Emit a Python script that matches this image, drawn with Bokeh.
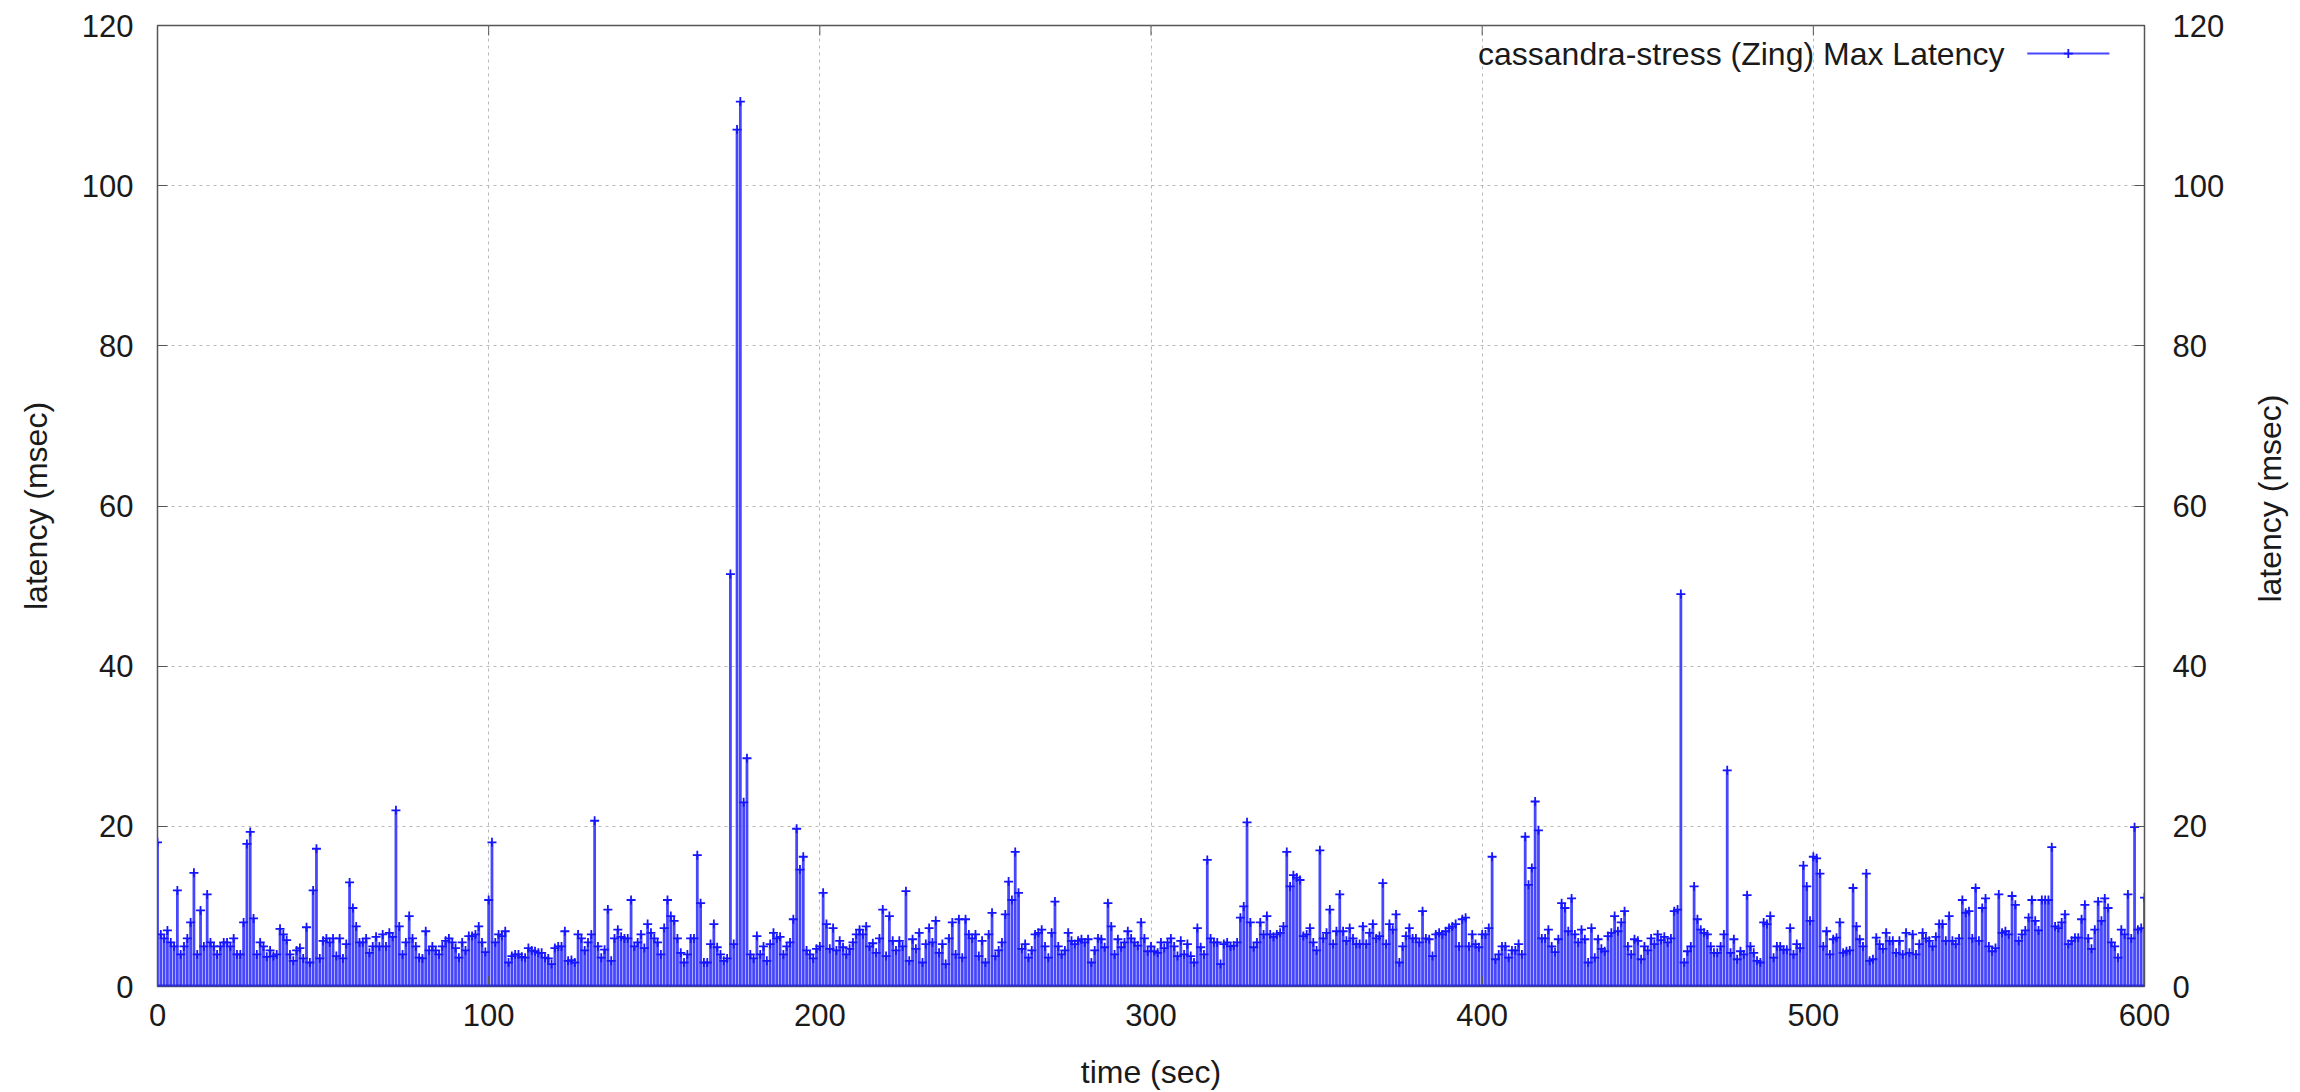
import math
from bokeh.plotting import figure
from bokeh.layouts import row
from bokeh.models import LinearAxis, Range1d, SingleIntervalTicker, Label, Span
from bokeh.embed import file_html
from bokeh.resources import INLINE

# ---- data: cassandra-stress (Zing) max latency per second (msec) ----
latency_000 = [18, 6.5, 6, 7, 5.5, 5, 12, 4, 5, 6,
               8, 14.2, 4, 9.5, 5, 11.5, 5.5, 5, 4, 5,
               5.5, 5.5, 5, 6, 4, 4, 8, 17.8, 19.3, 8.5,
               4, 5.5, 5, 3.7, 4.5, 3.8, 4, 7.2, 6.5, 5.8,
               4, 3.2, 4.5, 4.8, 3.5, 7.4, 3, 12, 17.2, 3.5,
               5.7, 6, 5.5, 6, 3.8, 6, 3.5, 5.3, 13, 9.8,
               7.5, 5.5, 5.5, 6, 4.2, 5, 6.2, 5, 6.5, 5,
               6.7, 6.2, 22, 7.5, 4, 5.5, 8.8, 6, 5, 3.6,
               3.5, 6.9, 4.5, 5, 4.5, 4, 5, 5.7, 6, 5.5,
               4.8, 3.6, 5.5, 4.5, 6.3, 6.3, 6.5, 7.5, 5.5, 4.3]
latency_100 = [10.8, 18, 5.5, 6.5, 6.3, 6.9, 3, 3.8, 4, 4,
               3.7, 3.6, 4.8, 4.5, 4.4, 4.2, 4.2, 3.6, 3.5, 2.8,
               4.8, 5, 5, 6.9, 3.2, 3.3, 3, 6.5, 6, 4.5,
               5.5, 6.5, 20.7, 5, 3.6, 4.6, 9.6, 3.2, 6, 7.1,
               6.2, 6, 6, 10.8, 5, 5.5, 6.5, 4.8, 7.8, 6.7,
               6, 5.5, 4, 7.3, 10.8, 8.8, 8.2, 6, 4.2, 3,
               4, 6, 6, 16.4, 10.4, 3, 3, 5.3, 7.8, 4.9,
               4, 3.2, 3.5, 51.5, 5.3, 107, 110.5, 23, 28.5, 4,
               3.5, 6.3, 4, 5, 3.2, 5.3, 6.7, 6, 6.2, 4,
               5, 5.5, 8.4, 19.7, 14.6, 16.2, 4.5, 4, 3.5, 4.7]
latency_200 = [5, 11.7, 7.8, 4.7, 7.3, 4.5, 5.7, 4.9, 4, 4.7,
               5.5, 6.5, 7.1, 6.5, 7.5, 5, 5.4, 4.2, 6, 9.6,
               3.8, 8.8, 5.7, 4.5, 5.7, 5, 11.9, 3.2, 5.9, 4.7,
               6.7, 3, 5.3, 7.3, 5.5, 8.2, 4.2, 5.3, 2.8, 6,
               8, 4, 8.4, 3.6, 8.4, 6.5, 6, 6.5, 3.8, 5.7,
               3, 6.5, 9.2, 3.8, 4.5, 5.5, 9, 13.1, 10.8, 16.8,
               11.7, 4.7, 5.3, 3.6, 4.5, 6.5, 6.7, 7.1, 5, 3.6,
               6.7, 10.6, 5, 4, 4.5, 6.7, 5.7, 5.3, 5.7, 5.9,
               5.5, 5.9, 3, 4.5, 6, 5.9, 4.9, 10.4, 7.5, 4,
               5.9, 4.9, 5.5, 6.9, 6, 5.5, 5.1, 8, 6, 4.4]
latency_300 = [5, 4.4, 4.2, 5.5, 4.8, 5.5, 6, 5, 3.8, 5.7,
               4, 5.3, 3.8, 3, 7.3, 4.9, 4, 15.8, 6, 5.5,
               5.5, 2.8, 5.3, 5.5, 5, 5.1, 5.5, 8.6, 10, 20.5,
               8, 4.9, 5.5, 8, 6.5, 8.8, 6.5, 6.2, 6.5, 6.7,
               7.5, 16.8, 12.5, 13.9, 13.6, 13.3, 6.3, 6.5, 7.3, 5.5,
               4.5, 17, 6, 6.7, 9.6, 5.3, 6.9, 11.5, 6.9, 5.7,
               7.3, 6, 5.3, 5.3, 7.5, 5.3, 6.7, 7.8, 6, 6.3,
               12.9, 5.3, 7.8, 7.1, 9, 3, 5, 6.3, 7.3, 6,
               6, 5.5, 9.4, 6, 5.9, 3.8, 6.5, 6.7, 6.5, 6.9,
               7.3, 7.5, 7.8, 5, 8.4, 8.6, 5, 6.5, 5.3, 4.9]
latency_400 = [6.5, 6.5, 7.3, 16.2, 3.4, 4, 5, 5, 3.6, 4.5,
               4.5, 5.3, 4, 18.7, 12.7, 14.8, 23.1, 19.5, 6, 6,
               7.1, 5, 4.3, 5.9, 10.4, 9.8, 6.9, 11, 6.5, 5.5,
               7.1, 5.9, 3, 7.3, 3.6, 5.9, 4.7, 4.4, 6.3, 6.7,
               8.8, 6.9, 8, 9.4, 5, 4, 5.9, 5.7, 3.4, 5,
               4.5, 6, 5.3, 6.5, 5.8, 6.2, 5.5, 6, 9.4, 9.6,
               49, 3, 4.4, 5, 12.5, 8.4, 7.1, 6.7, 6.5, 5,
               4.2, 4.2, 5, 6.5, 27, 4.2, 5.9, 3.4, 4.4, 4,
               11.4, 5, 4.2, 3.2, 3, 8, 7.8, 8.8, 3.6, 5,
               5, 4.6, 4.6, 7.3, 4, 5.3, 4.8, 15.1, 12.5, 8.2]
latency_500 = [16.2, 16, 14.1, 5, 6.9, 4, 5.9, 6.1, 8, 4.2,
               4.4, 4.5, 12.3, 7.5, 5.9, 5, 14.1, 3.2, 3.4, 6.1,
               5.3, 4.7, 6.7, 5.7, 5.7, 4.2, 5.7, 4, 6.7, 4.2,
               6.5, 4, 5.3, 6.7, 6, 5.7, 5, 6.2, 7.8, 7.8,
               5.7, 8.8, 5.7, 5.3, 6, 10.8, 9.2, 9.4, 6, 12.3,
               5.7, 9.8, 11, 5, 4.4, 4.8, 11.5, 6.7, 6.9, 6.5,
               11.3, 10.2, 5.7, 6.5, 7, 8.6, 10.8, 8.2, 7, 10.8,
               10.8, 10.8, 17.4, 7.5, 7.3, 8, 9, 5.3, 5.7, 6.1,
               6.1, 8.4, 10.2, 6, 4.7, 7.1, 10.6, 8.2, 11, 9.8,
               5.5, 5, 3.6, 7.1, 6.5, 11.5, 6, 19.9, 7.1, 7.3,
               11.1]

latency = latency_000 + latency_100 + latency_200 + latency_300 + latency_400 + latency_500
time_sec = list(range(len(latency)))

series_name = "cassandra-stress (Zing) Max Latency"
x_title = "time (sec)"
y_title = "latency (msec)"
x_ticks = [0, 100, 200, 300, 400, 500, 600]
y_ticks_step = 20

FONT = "Liberation Sans"
FS = "31px"
FS_TITLE = "32px"
TXT = "#1a1a1a"
BLUE = "#1515ff"
FILL = "#4646ff"
FRAME = "#555555"

MAIN_W, SIDE_W, H = 2250, 50, 1092

p = figure(width=MAIN_W, height=H, output_backend="svg", toolbar_location=None,
           x_range=Range1d(0, 600), y_range=Range1d(0, 120),
           min_border_left=157, min_border_right=106, min_border_top=25, min_border_bottom=106,
           background_fill_color="white", border_fill_color="white")

p.outline_line_color = FRAME
p.outline_line_width = 1.5

p.vbar(x=time_sec, top=latency, width=0.84, bottom=0, fill_color=FILL, line_color=None)
p.scatter(x=time_sec, y=latency, marker="cross", size=9, line_color=BLUE, line_width=1.8)

p.add_layout(Span(location=0, dimension="width", line_color="#2a2ad8", line_width=4))

# axes
def style(ax):
    ax.axis_line_color = FRAME
    ax.major_tick_in = 10
    ax.major_tick_out = 0
    ax.major_tick_line_color = FRAME
    ax.minor_tick_line_color = None
    ax.major_label_text_font = FONT
    ax.major_label_text_font_size = FS
    ax.major_label_text_color = TXT
    ax.axis_label_text_font = FONT
    ax.axis_label_text_font_size = FS_TITLE
    ax.axis_label_text_font_style = "normal"
    ax.axis_label_text_color = TXT

xa = p.xaxis[0]
xa.ticker = x_ticks
xa.axis_label = x_title
style(xa)
xa.major_label_standoff = 17
xa.axis_label_standoff = 25

ya = p.yaxis[0]
ya.ticker = SingleIntervalTicker(interval=y_ticks_step)
ya.axis_label = y_title
style(ya)
ya.major_label_standoff = 20
ya.axis_label_standoff = 25

yr = LinearAxis(ticker=SingleIntervalTicker(interval=y_ticks_step))
style(yr)
yr.major_label_standoff = 24
p.add_layout(yr, "right")

# mirrored tick marks along the top edge (gnuplot style), at the x tick values
top_tick_len = 1.25
p.segment(x0=x_ticks, x1=x_ticks, y0=[120] * len(x_ticks), y1=[120 - top_tick_len] * len(x_ticks),
          line_color=FRAME, line_width=1)

p.xgrid.ticker = x_ticks
p.ygrid.ticker = SingleIntervalTicker(interval=y_ticks_step)
for g in (p.xgrid[0], p.ygrid[0]):
    g.grid_line_color = "#b8b8b8"
    g.grid_line_dash = "3 4"
    g.grid_line_width = 1

# legend (gnuplot style: text then sample), positioned near top-right
legend_text_right = 557.7
legend_y = 116.5
legend_key = (564.6, 589.4)
p.add_layout(Label(x=legend_text_right, y=legend_y, text=series_name, text_align="right",
                   text_baseline="middle", text_font=FONT, text_font_size=FS_TITLE, text_color=TXT))
p.line(x=list(legend_key), y=[legend_y, legend_y], line_color=FILL, line_width=2)
p.scatter(x=[sum(legend_key) / 2], y=[legend_y], marker="cross", size=9, line_color=BLUE, line_width=1.8)

# narrow strip on the right holding the y2 title (rotated like gnuplot's y2label)
side = figure(width=SIDE_W, height=H, output_backend="svg", toolbar_location=None,
              x_range=Range1d(0, SIDE_W), y_range=Range1d(0, H),
              min_border=0, background_fill_color="white", border_fill_color="white")
side.axis.visible = False
side.grid.visible = False
side.outline_line_color = None
y2_title_x = 19
y2_title_y = H - 537.5
side.add_layout(Label(x=y2_title_x, y=y2_title_y, text=y_title, angle=math.pi / 2,
                      text_align="center", text_baseline="middle",
                      text_font=FONT, text_font_size=FS_TITLE, text_color=TXT))

layout = row(p, side, spacing=0)
open("out.html", "w").write(file_html(layout, INLINE))
